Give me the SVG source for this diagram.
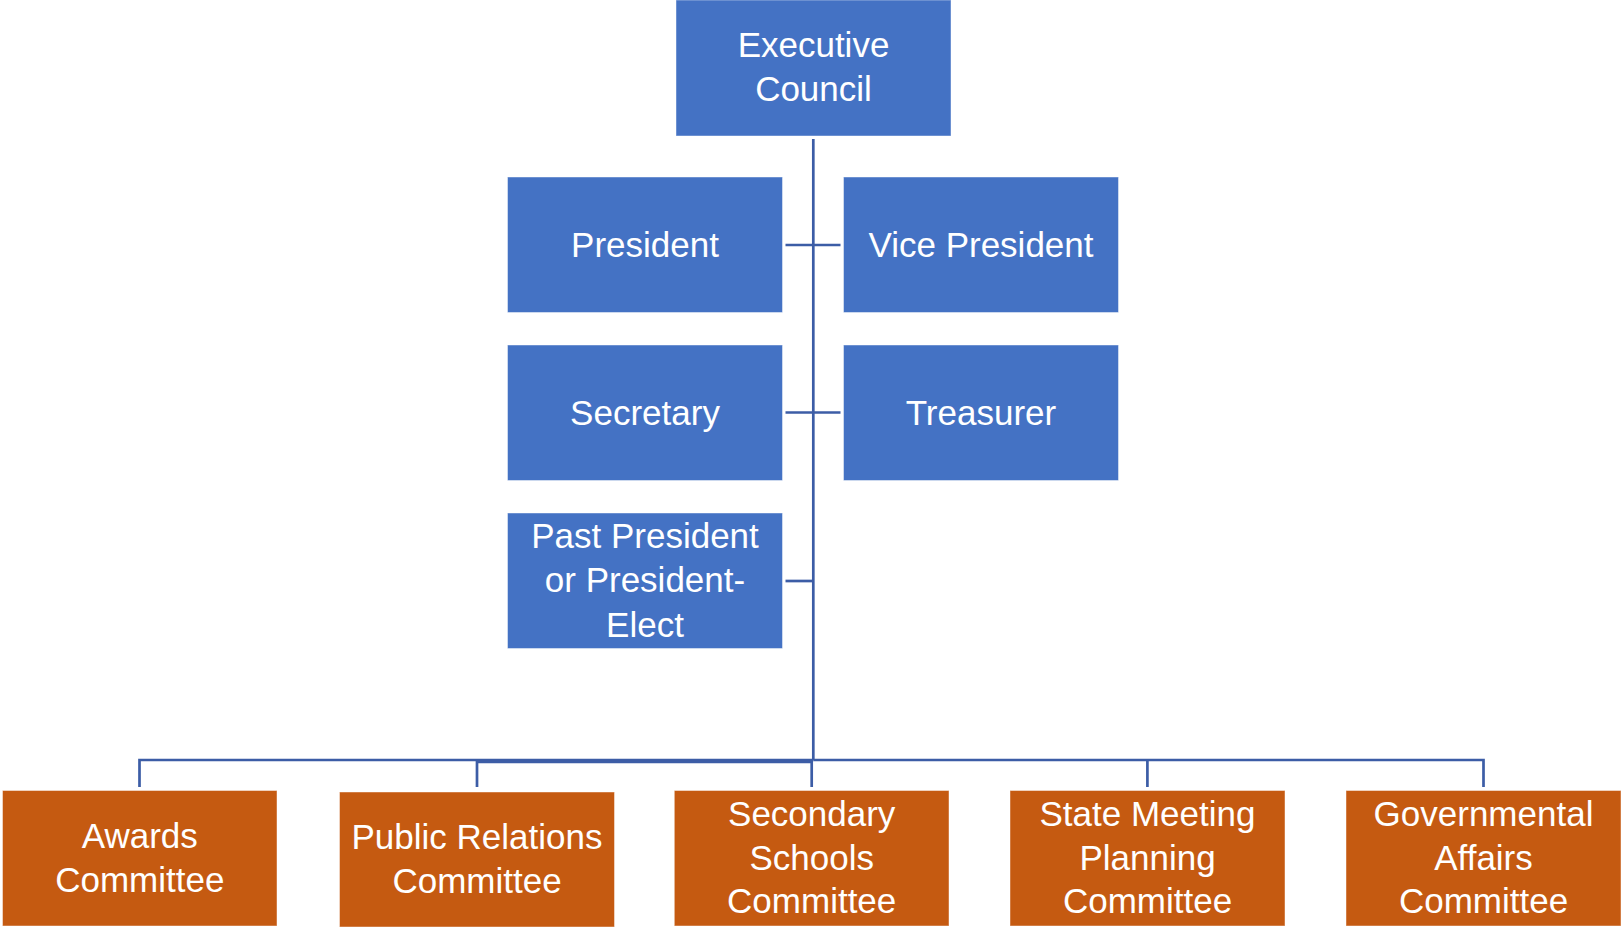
<svg xmlns="http://www.w3.org/2000/svg" width="1621" height="927" viewBox="0 0 1621 927">
<style>
.b{fill:#4472C4;stroke:#ffffff;stroke-opacity:0.45;stroke-width:1}
.o{fill:#C55A11;stroke:#ffffff;stroke-opacity:0.45;stroke-width:1}
.t{font-family:"Liberation Sans",Arial,sans-serif;font-size:35px;fill:#ffffff;text-anchor:middle}
.c{fill:none;stroke:#3C5DA6;stroke-width:2.7}
</style>
<rect width="1621" height="927" fill="#ffffff"/>
<g id="connectors">
<path class="c" d="M813.3 139 V760"/>
<path class="c" d="M785.5 245 H840.5"/>
<path class="c" d="M785.5 412.5 H840.5"/>
<path class="c" d="M785.5 581 H813.3"/>
<path class="c" d="M813.3 760 H139.5 V787"/>
<path class="c" d="M811.5 762 H477 V787"/>
<path class="c" d="M811.7 760 V787"/>
<path class="c" d="M813.3 760 H1483.5 V787"/>
<path class="c" d="M1147.4 760 V787"/>
</g>
<g id="executive-council">
<rect class="b" x="676" y="0" width="275" height="136"/>
<text class="t" x="813.5" y="57">Executive</text>
<text class="t" x="813.5" y="101">Council</text>
</g>
<g id="president">
<rect class="b" x="507.5" y="177" width="275" height="135.5"/>
<text class="t" x="645" y="257">President</text>
</g>
<g id="vice-president">
<rect class="b" x="843.5" y="177" width="275" height="135.5"/>
<text class="t" x="981" y="257">Vice President</text>
</g>
<g id="secretary">
<rect class="b" x="507.5" y="345" width="275" height="135.5"/>
<text class="t" x="645" y="425">Secretary</text>
</g>
<g id="treasurer">
<rect class="b" x="843.5" y="345" width="275" height="135.5"/>
<text class="t" x="981" y="425">Treasurer</text>
</g>
<g id="past-president">
<rect class="b" x="507.5" y="513" width="275" height="135.5"/>
<text class="t" x="645" y="548">Past President</text>
<text class="t" x="645" y="592">or President-</text>
<text class="t" x="645" y="636.5">Elect</text>
</g>
<g id="awards-committee">
<rect class="o" x="2.5" y="790.5" width="274.5" height="135.5"/>
<text class="t" x="139.8" y="848">Awards</text>
<text class="t" x="139.8" y="891.5">Committee</text>
</g>
<g id="public-relations-committee">
<rect class="o" x="339.5" y="792" width="275" height="135"/>
<text class="t" x="477" y="849">Public Relations</text>
<text class="t" x="477" y="893">Committee</text>
</g>
<g id="secondary-schools-committee">
<rect class="o" x="674.3" y="790.5" width="274.7" height="135.5"/>
<text class="t" x="811.7" y="826">Secondary</text>
<text class="t" x="811.7" y="869.5">Schools</text>
<text class="t" x="811.7" y="913">Committee</text>
</g>
<g id="state-meeting-planning-committee">
<rect class="o" x="1010" y="790.5" width="275" height="135.5"/>
<text class="t" x="1147.5" y="826">State Meeting</text>
<text class="t" x="1147.5" y="869.5">Planning</text>
<text class="t" x="1147.5" y="913">Committee</text>
</g>
<g id="governmental-affairs-committee">
<rect class="o" x="1346" y="790.5" width="275" height="135.5"/>
<text class="t" x="1483.5" y="826">Governmental</text>
<text class="t" x="1483.5" y="869.5">Affairs</text>
<text class="t" x="1483.5" y="913">Committee</text>
</g>
</svg>
